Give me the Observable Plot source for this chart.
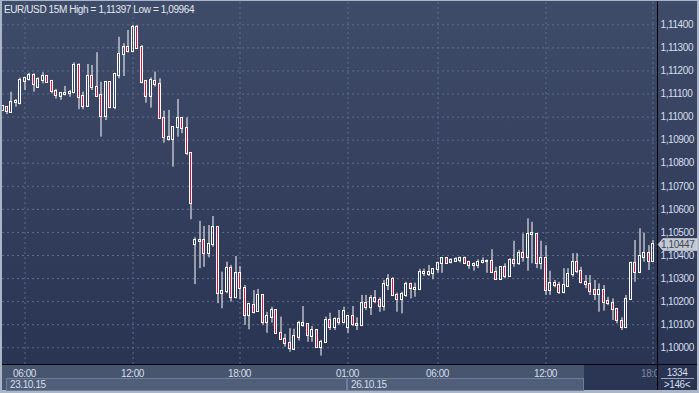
<!DOCTYPE html>
<html><head><meta charset="utf-8">
<script src="https://cdn.jsdelivr.net/npm/d3@7"></script>
<script src="https://cdn.jsdelivr.net/npm/@observablehq/plot@0.6"></script>
<style>
html,body{margin:0;padding:0;background:#aab6c8;}
#chart{position:relative;width:699px;height:393px;overflow:hidden;}
#chart svg{display:block;}
</style></head><body><div id="chart"></div>
<script>
// ---- data (15-minute bars, index 0 = 23.10.15 05:00) ----
const firstIndex = -1;
const openP = [1.11029,1.11040,1.11021,1.11063,1.11060,1.11156,1.11163,1.11179,1.11130,1.11159,1.11177,1.11154,1.11111,1.11091,1.11099,1.11101,1.11105,1.11222,1.11088,1.11047,1.11176,1.11127,1.11094,1.11003,1.11151,1.11040,1.11180,1.11270,1.11300,1.11286,1.11390,1.11300,1.11154,1.11091,1.11156,1.11140,1.10993,1.10910,1.10902,1.10956,1.10993,1.10949,1.10844,1.10447,1.10461,1.10464,1.10408,1.10447,1.10520,1.10234,1.10244,1.10343,1.10217,1.10321,1.10256,1.10140,1.10183,1.10157,1.10227,1.10111,1.10133,1.10162,1.10063,1.10035,1.10018,1.09994,1.10046,1.10098,1.10100,1.10050,1.10075,1.10000,1.10024,1.10118,1.10087,1.10122,1.10109,1.10087,1.10136,1.10096,1.10096,1.10191,1.10173,1.10212,1.10205,1.10180,1.10270,1.10295,1.10227,1.10208,1.10227,1.10273,1.10252,1.10252,1.10322,1.10318,1.10321,1.10338,1.10364,1.10386,1.10371,1.10375,1.10378,1.10386,1.10371,1.10357,1.10357,1.10368,1.10373,1.10375,1.10327,1.10297,1.10347,1.10309,1.10378,1.10364,1.10408,1.10393,1.10490,1.10491,1.10364,1.10386,1.10248,1.10277,1.10270,1.10241,1.10266,1.10318,1.10371,1.10332,1.10284,1.10273,1.10248,1.10231,1.10248,1.10202,1.10191,1.10165,1.10115,1.10087,1.10209,1.10367,1.10328,1.10393,1.10408,1.10375];
const highP = [1.11048,1.11046,1.11108,1.11076,1.11169,1.11173,1.11190,1.11188,1.11170,1.11192,1.11180,1.11159,1.11120,1.11105,1.11133,1.11115,1.11235,1.11231,1.11108,1.11228,1.11224,1.11279,1.11151,1.11154,1.11154,1.11190,1.11346,1.11318,1.11375,1.11397,1.11397,1.11310,1.11159,1.11170,1.11195,1.11166,1.11026,1.11029,1.10959,1.11076,1.10995,1.10997,1.10846,1.10477,1.10548,1.10526,1.10530,1.10569,1.10523,1.10328,1.10371,1.10357,1.10396,1.10352,1.10270,1.10193,1.10248,1.10253,1.10229,1.10154,1.10176,1.10165,1.10133,1.10058,1.10083,1.10081,1.10115,1.10179,1.10104,1.10092,1.10078,1.10032,1.10133,1.10150,1.10130,1.10162,1.10176,1.10139,1.10179,1.10130,1.10227,1.10227,1.10227,1.10248,1.10217,1.10292,1.10317,1.10304,1.10237,1.10241,1.10284,1.10280,1.10280,1.10340,1.10341,1.10357,1.10343,1.10371,1.10390,1.10388,1.10386,1.10390,1.10393,1.10393,1.10375,1.10368,1.10381,1.10390,1.10381,1.10425,1.10349,1.10352,1.10364,1.10386,1.10462,1.10422,1.10494,1.10559,1.10544,1.10494,1.10462,1.10443,1.10332,1.10292,1.10284,1.10343,1.10343,1.10408,1.10408,1.10349,1.10313,1.10313,1.10292,1.10277,1.10270,1.10219,1.10212,1.10169,1.10130,1.10227,1.10371,1.10465,1.10516,1.10497,1.10443,1.10465];
const lowP = [1.11025,1.11011,1.11017,1.11043,1.11053,1.11115,1.11156,1.11108,1.11125,1.11144,1.11149,1.11101,1.11078,1.11072,1.11092,1.11086,1.11101,1.11032,1.11032,1.11043,1.11115,1.11086,1.10913,1.10985,1.11036,1.11032,1.11166,1.11176,1.11277,1.11281,1.11293,1.11144,1.11060,1.11039,1.11130,1.10990,1.10887,1.10896,1.10783,1.10913,1.10928,1.10834,1.10555,1.10274,1.10343,1.10349,1.10390,1.10436,1.10191,1.10169,1.10234,1.10198,1.10212,1.10208,1.10097,1.10078,1.10147,1.10154,1.10097,1.10063,1.10107,1.10061,1.10033,1.10003,1.09981,1.09988,1.10029,1.10089,1.10024,1.10024,1.09998,1.09964,1.10022,1.10075,1.10075,1.10097,1.10104,1.10063,1.10092,1.10075,1.10092,1.10162,1.10140,1.10191,1.10154,1.10159,1.10248,1.10222,1.10154,1.10147,1.10219,1.10212,1.10219,1.10248,1.10309,1.10309,1.10295,1.10323,1.10323,1.10364,1.10364,1.10371,1.10367,1.10361,1.10340,1.10332,1.10343,1.10364,1.10323,1.10323,1.10292,1.10295,1.10299,1.10306,1.10349,1.10357,1.10371,1.10332,1.10364,1.10343,1.10338,1.10227,1.10227,1.10260,1.10231,1.10234,1.10263,1.10306,1.10321,1.10277,1.10256,1.10227,1.10205,1.10154,1.10159,1.10183,1.10118,1.10104,1.10075,1.10083,1.10205,1.10284,1.10321,1.10371,1.10335,1.10371];
const closeP = [1.11046,1.11023,1.11062,1.11069,1.11159,1.11167,1.11180,1.11140,1.11162,1.11176,1.11151,1.11110,1.11092,1.11101,1.11102,1.11108,1.11224,1.11086,1.11047,1.11176,1.11130,1.11089,1.11004,1.11151,1.11040,1.11185,1.11271,1.11300,1.11286,1.11390,1.11299,1.11149,1.11091,1.11159,1.11140,1.10993,1.10910,1.10902,1.10956,1.10993,1.10949,1.10844,1.10624,1.10464,1.10464,1.10408,1.10447,1.10520,1.10234,1.10244,1.10343,1.10217,1.10321,1.10256,1.10140,1.10188,1.10154,1.10227,1.10111,1.10136,1.10162,1.10063,1.10035,1.10018,1.09996,1.10048,1.10104,1.10104,1.10053,1.10075,1.10000,1.10024,1.10118,1.10087,1.10122,1.10109,1.10156,1.10136,1.10100,1.10100,1.10191,1.10173,1.10212,1.10202,1.10180,1.10273,1.10295,1.10227,1.10208,1.10230,1.10273,1.10256,1.10256,1.10325,1.10327,1.10325,1.10338,1.10364,1.10386,1.10367,1.10378,1.10383,1.10386,1.10367,1.10357,1.10361,1.10371,1.10375,1.10375,1.10327,1.10297,1.10349,1.10309,1.10378,1.10364,1.10408,1.10393,1.10491,1.10494,1.10364,1.10386,1.10248,1.10277,1.10269,1.10241,1.10270,1.10318,1.10371,1.10332,1.10284,1.10273,1.10245,1.10231,1.10248,1.10198,1.10191,1.10165,1.10118,1.10089,1.10209,1.10367,1.10328,1.10396,1.10408,1.10375,1.10447];

const priceTicks = [1.100,1.101,1.102,1.103,1.104,1.105,1.106,1.107,1.108,1.109,1.110,1.111,1.112,1.113,1.114];
const timeTickIdx = [4,28,52,76,96,120,144];
const timeTickLabels = ["06:00","12:00","18:00","01:00","06:00","12:00","18:00"];
const dateStartIdx = [0,76];
const dateLabels = ["23.10.15","26.10.15"];
const titleText = "EUR/USD 15M High = 1,11397 Low = 1,09964";
const barsTotal = "1334";
const barsVisible = ">146<";

// ---- build table ----
const candles = openP.map((o,k)=>{
  const c = closeP[k];
  return {i:k+firstIndex, o, h:highP[k], l:lowP[k], c, top:Math.max(o,c), bot:Math.min(o,c), bear:c<o};
});
const lastClose = closeP[closeP.length-1];
const W = 699, H = 393;
const grid = "#5d6d8c", red = "#dc143c", txt = "#d6dfec";
const fmtPrice = d => d.toFixed(5).replace(".", ",");
const axisTicks = timeTickIdx.slice(0, -1);

const chart = Plot.plot({
  width: W, height: H,
  marginLeft: 2, marginRight: 42, marginTop: 2, marginBottom: 29,
  style: {background: "transparent", color: txt, fontFamily: "'Liberation Sans', Arial, sans-serif", fontSize: "10px", letterSpacing: "-0.4px", overflow: "visible"},
  x: {domain: [-0.891, 145.05], round: true, axis: "bottom", ticks: axisTicks,
      tickFormat: d => timeTickLabels[timeTickIdx.indexOf(d)], tickSize: 0, tickPadding: 5, label: null},
  y: {domain: [1.099276, 1.114967], axis: "right", ticks: priceTicks, tickFormat: fmtPrice,
      tickSize: 0, tickPadding: 3, label: null},
  marks: [
    Plot.ruleY(priceTicks, {stroke: grid, strokeDasharray: "2,3", strokeWidth: 1}),
    Plot.ruleX(timeTickIdx, {stroke: grid, strokeDasharray: "2,3", strokeWidth: 1, dx: 0.5}),
    Plot.ruleX(candles, {x: "i", y1: "h", y2: "top", stroke: "white", dx: 0.5, clip: true}),
    Plot.ruleX(candles, {x: "i", y1: "bot", y2: "l", stroke: "white", dx: 0.5, clip: true}),
    Plot.rect(candles, {x1: "i", x2: "i", y1: "bot", y2: "top", insetLeft: -0.5, insetRight: -1.5,
      insetTop: -0.5, insetBottom: -0.5,
      fill: d => d.bear ? red : "none", stroke: "white", strokeWidth: 1, shapeRendering: "crispEdges", clip: true}),
    Plot.text([titleText], {frameAnchor: "top-left", text: d => d, dx: 1.5, dy: 3, lineAnchor: "top",
      textAnchor: "start", fill: "#e4e9f0", fontSize: 10})
  ]
});
document.getElementById("chart").appendChild(chart);

// ---- panels drawn around the plot, positioned from Plot's scales ----
const svg = d3.select(chart);
const xs = chart.scale("x"), ys = chart.scale("y");
const X = v => xs.apply(v);
const Y = v => ys.apply(v);
const plotR = W - 42, plotB = H - 29;

const bg = svg.insert("g", ":first-child").attr("text-anchor", "start");
const defs = bg.append("defs");
const lg = defs.append("linearGradient").attr("id", "bgGrad").attr("x1", 0).attr("y1", 0).attr("x2", 0).attr("y2", 1);
lg.append("stop").attr("offset", "0%").attr("stop-color", "#3f4c69");
lg.append("stop").attr("offset", "100%").attr("stop-color", "#283251");
bg.append("rect").attr("x", 0).attr("y", 0).attr("width", W).attr("height", H).attr("fill", "#aab6c8");
bg.append("rect").attr("x", 2).attr("y", 1).attr("width", W - 4).attr("height", H - 4).attr("fill", "url(#bgGrad)");
// time row
bg.append("rect").attr("x", 2).attr("y", plotB + 1).attr("width", 584 - 2).attr("height", 25).attr("fill", "#48556f");
// date boxes
const dateEnds = dateStartIdx.slice(1).map(X).concat([584]);
dateStartIdx.forEach((s, k) => {
  const x0 = X(s), x1 = dateEnds[k];
  bg.append("rect").attr("x", x0 + 0.5).attr("y", 378.5).attr("width", x1 - x0 - 1).attr("height", 12)
    .attr("fill", "#505e79").attr("stroke", "#6f7e98");
  bg.append("text").attr("x", x0 + 4).attr("y", 387.5).attr("fill", txt).attr("font-size", 10)
    .attr("text-anchor", "start").text(dateLabels[k]);
});
// dark box at right of time row
bg.append("rect").attr("x", 584).attr("y", plotB + 1).attr("width", plotR - 584).attr("height", 25).attr("fill", "#2b3654");

// overlay lines and texts
const fg = svg.append("g").attr("text-anchor", "start");
fg.append("line").attr("x1", 2).attr("x2", W - 2).attr("y1", plotB + 0.5).attr("y2", plotB + 0.5).attr("stroke", "#000");
fg.append("line").attr("x1", plotR + 0.5).attr("x2", plotR + 0.5).attr("y1", 1).attr("y2", H - 3).attr("stroke", "#000");
// clipped last time label
const cp = defs.append("clipPath").attr("id", "lastTickClip");
cp.append("rect").attr("x", 584).attr("y", plotB).attr("width", plotR - 584).attr("height", 26);
fg.append("text").attr("clip-path", "url(#lastTickClip)")
  .attr("x", X(timeTickIdx[timeTickIdx.length - 1]) + 0.5).attr("y", plotB + 12.5)
  .attr("text-anchor", "middle").attr("fill", "#7d8aa2").attr("font-size", 10)
  .text(timeTickLabels[timeTickLabels.length - 1]);
// bar counters
fg.append("text").attr("x", 677).attr("y", plotB + 12).attr("text-anchor", "middle").attr("fill", txt).attr("font-size", 10).text(barsTotal);
fg.append("line").attr("x1", 661).attr("x2", 694).attr("y1", 378.5).attr("y2", 378.5).attr("stroke", "#9aa6ba");
fg.append("text").attr("x", 677).attr("y", 388).attr("text-anchor", "middle").attr("fill", txt).attr("font-size", 10).text(barsVisible);
// current price tag
const yc = Math.round(Y(lastClose)) + 0.5;
fg.append("path").attr("d", `M${plotR + 1},${yc} L${plotR + 6},${yc - 6} L${W - 2},${yc - 6} L${W - 2},${yc + 6} L${plotR + 6},${yc + 6} Z`)
  .attr("fill", "#c3c8d1").attr("stroke", "#e8ebf0").attr("stroke-width", 0.5);
fg.append("text").attr("x", plotR + 4).attr("y", yc + 3.5).attr("text-anchor", "start")
  .attr("fill", "#3c4860").attr("font-size", 10).text(fmtPrice(lastClose));
</script></body></html>
